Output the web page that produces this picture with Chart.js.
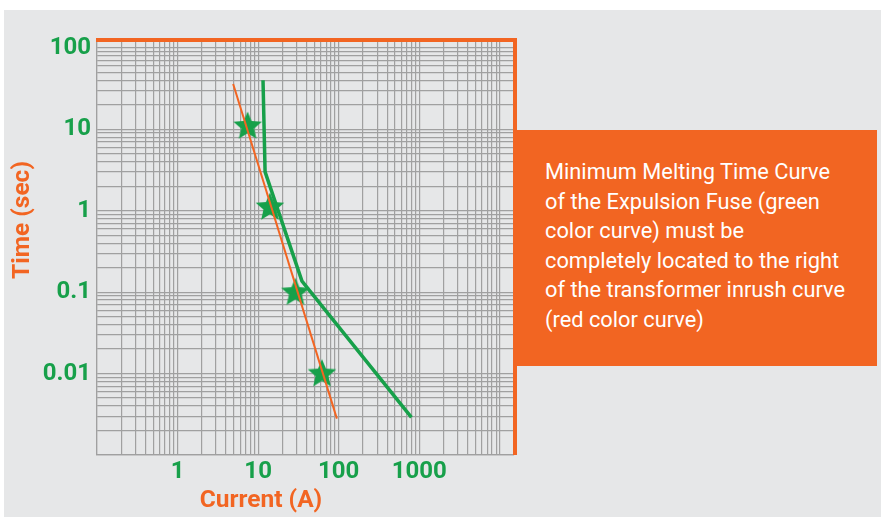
<!DOCTYPE html>
<html>
<head>
<meta charset="utf-8">
<script src="https://cdn.jsdelivr.net/npm/chart.js@4.4.1/dist/chart.umd.min.js"></script>
<style>
body { margin: 0; background: #fff; }
.wrap { position: relative; width: 881px; height: 519px; overflow: hidden; }
.fundo { position: absolute; left: 4px; top: 10px; width: 877px; height: 507px; background: #e6e7e8; }
#grafico { position: absolute; left: 0; top: 0; }
.caixa {
    position: absolute; left: 515px; top: 130px; width: 362px; height: 236px;
    background: #f26522; color: #fff; box-sizing: border-box; padding: 27px 0 0 30px;
    font-family: Roboto, sans-serif; font-size: 21.8px; line-height: 29.5px;
}
</style>
</head>
<body>
<div class="wrap">
    <div class="fundo"></div>
    <canvas id="grafico" width="881" height="519"></canvas>
    <div class="caixa">
        Minimum Melting Time Curve<br>
        of the Expulsion Fuse (green<br>
        color curve) must be<br>
        completely located to the right<br>
        of the transformer inrush curve<br>
        (red color curve)
    </div>
</div>
<script>
var laranja = '#f26522';
var verde = '#17a04a';

// curva de inrush do transformador (vermelha)
var inrushCorrente = [4.9, 95];
var inrushTempo = [36, 0.0028];

// curva de fusao minima do fusivel (verde)
var fusivelCorrente = [11.5, 12.2, 35, 800];
var fusivelTempo = [40, 3.0, 0.137, 0.0029];

// estrelas
var estrelaCorrente = [7.4, 14, 29, 62];
var estrelaTempo = [11, 1.11, 0.1, 0.01];

// grade log e rotulos
var decadasX = [0.1, 1, 10, 100, 1000, 10000];
var decadasY = [0.001, 0.01, 0.1, 1, 10, 100];
var multiplos = [1, 2, 3, 4, 5, 6, 7, 8, 9];
var rotulosX = [1, 10, 100, 1000];
var rotulosY = [100, 10, 1, 0.1, 0.01];

function pares(xs, ys) {
    return xs.map(function(x, i) { return {x: x, y: ys[i]}; });
}

function ticksLog(decadas) {
    var lista = [];
    decadas.forEach(function(d) {
        multiplos.forEach(function(m) { lista.push(d * m); });
    });
    return lista;
}

function fazerEstrela() {
    var c = document.createElement('canvas');
    c.width = 32;
    c.height = 32;
    var g = c.getContext('2d');
    g.fillStyle = verde;
    g.beginPath();
    for (var i = 0; i < 10; i++) {
        var r = (i % 2 === 0) ? 15 : 6.8;
        var ang = -Math.PI / 2 + i * Math.PI / 5;
        g.lineTo(16 + r * Math.cos(ang), 16.5 + r * Math.sin(ang));
    }
    g.closePath();
    g.fill();
    return c;
}

var bordaLaranja = {
    id: 'bordaLaranja',
    beforeDatasetsDraw: function(chart) {
        var ctx = chart.ctx, a = chart.chartArea;
        ctx.save();
        ctx.fillStyle = laranja;
        ctx.fillRect(a.left - 1, a.top - 2, a.right - a.left + 4, 4);
        ctx.fillRect(a.right - 1, a.top - 2, 4, a.bottom - a.top + 2);
        ctx.restore();
    },
    afterDraw: function(chart) {
        var ctx = chart.ctx;
        ctx.save();
        ctx.fillStyle = laranja;
        ctx.font = 'bold 24.5px Roboto';
        ctx.textAlign = 'center';
        ctx.textBaseline = 'middle';
        ctx.fillText('Current (A)', 261, 501);
        ctx.translate(23, 220);
        ctx.rotate(-Math.PI / 2);
        ctx.fillText('Time (sec)', 0, 0);
        ctx.restore();
    }
};

var fonteTicks = { family: 'Roboto', size: 24, weight: 'bold' };
var grade = { color: '#a0a0a0', lineWidth: 1.2, drawTicks: false };

var ctx = document.getElementById('grafico').getContext('2d');
new Chart(ctx, {
    type: 'scatter',
    data: {
        datasets: [{
            data: pares(inrushCorrente, inrushTempo),
            showLine: true,
            borderColor: laranja,
            borderWidth: 2,
            pointRadius: 0,
            order: 0
        }, {
            data: pares(estrelaCorrente, estrelaTempo),
            pointStyle: fazerEstrela(),
            pointRadius: 15,
            order: 1
        }, {
            data: pares(fusivelCorrente, fusivelTempo),
            showLine: true,
            borderColor: verde,
            borderWidth: 3.5,
            pointRadius: 0,
            order: 2
        }]
    },
    options: {
        responsive: false,
        animation: false,
        layout: { padding: { top: 40, right: 367, left: 0, bottom: 0 } },
        plugins: { legend: { display: false }, tooltip: { enabled: false } },
        scales: {
            x: {
                type: 'logarithmic',
                min: 0.1,
                max: 15000,
                grid: grade,
                border: { color: '#a0a0a0', width: 1.2 },
                afterFit: function(s) { s.height = 64; },
                afterBuildTicks: function(s) {
                    s.ticks = ticksLog(decadasX).filter(function(v) { return v >= s.min && v <= s.max; })
                        .map(function(v) { return {value: v}; });
                },
                ticks: {
                    autoSkip: false,
                    maxRotation: 0,
                    padding: 3,
                    color: verde,
                    font: fonteTicks,
                    callback: function(v) { return rotulosX.indexOf(v) >= 0 ? String(v) : ''; }
                }
            },
            y: {
                type: 'logarithmic',
                min: 0.001,
                max: 125,
                grid: grade,
                border: { color: '#a0a0a0', width: 1.2 },
                afterFit: function(s) { s.width = 97; },
                afterBuildTicks: function(s) {
                    s.ticks = ticksLog(decadasY).filter(function(v) { return v >= s.min && v <= s.max; })
                        .map(function(v) { return {value: v}; });
                },
                ticks: {
                    autoSkip: false,
                    padding: 6,
                    color: verde,
                    font: fonteTicks,
                    callback: function(v) { return rotulosY.indexOf(v) >= 0 ? String(v) : ''; }
                }
            }
        }
    },
    plugins: [bordaLaranja]
});
</script>
</body>
</html>
